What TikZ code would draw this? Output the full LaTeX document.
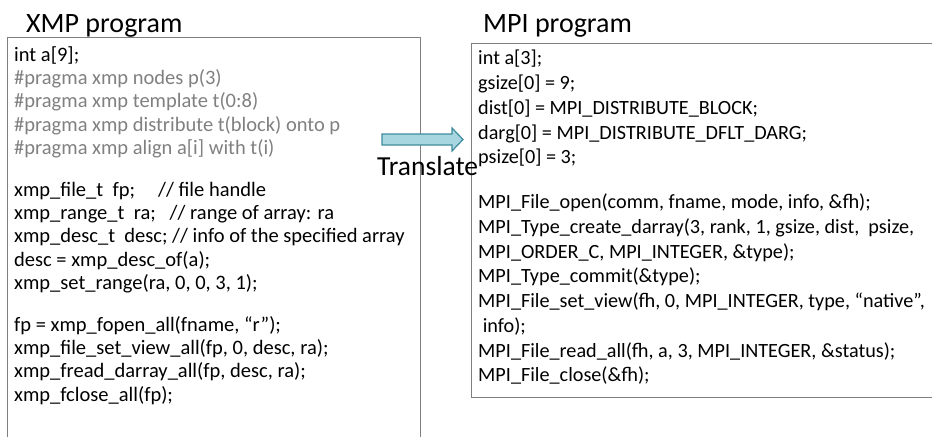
\documentclass[tikz,border=0pt]{standalone}
\usepackage{fontspec}
\setmainfont{Carlito}
\usepackage{tikz}
\usetikzlibrary{
    calc,
    positioning
}
\definecolor{framegray}{HTML}{7F7F7F}
\definecolor{pragmagray}{HTML}{808080}
\definecolor{arrowfill}{HTML}{A8D6E0}
\definecolor{arrowline}{HTML}{3E8C9C}
\tikzset{
    % Heading above a listing:
    title node/.style = {
        anchor = base west,
        inner sep = 0pt,
        font = \fontsize{28}{34}\selectfont
    },
    % Listing:
    code node/.style = {
        anchor = north west,
        align = left,
        inner sep = 0pt,
        font = \fontsize{20.5}{23.4}\selectfont
    },
    % Frame round a listing:
    code frame/.style = {
        draw = framegray,
        line width = 1pt
    },
    % Block arrow:
    block arrow/.style = {
        draw = arrowline,
        fill = arrowfill,
        line width = 1.2pt
    }
}
\newcommand{\pragmaline}[1]{\textcolor{pragmagray}{#1}}

\begin{document}
\begin{tikzpicture}[x=1pt, y=-1pt]
    \useasboundingbox (0, 0) rectangle (932, 437);
    \node [title node] (xmp title) at (26, 32) {XMP program};
    \node [title node] (mpi title) at (483, 32) {MPI program};
    \draw [code frame] (7, 437) -- (7, 37) -- (420, 37) -- (420, 437); % cut by the page
    \draw [code frame] (932, 43) -- (471, 43) -- (471, 397) -- (932, 397);
    \node [code node] (xmp code) at (14, 46) {%
        int a[9];\\
        \pragmaline{\#pragma xmp nodes p(3)}\\
        \pragmaline{\#pragma xmp template t(0:8)}\\
        \pragmaline{\#pragma xmp distribute t(block) onto p}\\
        \pragmaline{\#pragma xmp align a[i] with t(i)}\\[18pt]%
        xmp\_file\_t~~fp;~~~~~// file handle\\
        xmp\_range\_t~~ra;~~~// range of array: ra\\
        xmp\_desc\_t~~desc;~// info of the specified array\\
        desc = xmp\_desc\_of(a);\\
        xmp\_set\_range(ra, 0, 0, 3, 1);\\[18pt]%
        fp = xmp\_fopen\_all(fname, “r”);\\
        xmp\_file\_set\_view\_all(fp, 0, desc, ra);\\
        xmp\_fread\_darray\_all(fp, desc, ra);\\
        xmp\_fclose\_all(fp);%
    };
    \node [code node, font=\fontsize{20.2}{24.75}\selectfont] (mpi code) at (478, 50) {%
        int a[3];\\
        gsize[0] = 9;\\
        dist[0] = MPI\_DISTRIBUTE\_BLOCK;\\
        darg[0] = MPI\_DISTRIBUTE\_DFLT\_DARG;\\
        psize[0] = 3;\\[20pt]%
        MPI\_File\_open(comm, fname, mode, info, \&fh);\\
        MPI\_Type\_create\_darray(3, rank, 1, gsize, dist,~~psize,\\
        MPI\_ORDER\_C, MPI\_INTEGER, \&type);\\
        MPI\_Type\_commit(\&type);\\
        MPI\_File\_set\_view(fh, 0, MPI\_INTEGER, type, “native”,\\
        ~info);\\
        MPI\_File\_read\_all(fh, a, 3, MPI\_INTEGER, \&status);\\
        MPI\_File\_close(\&fh);%
    };
    \path [block arrow]
        (382, 134) -- (452, 134) -- (452, 128)
        -- (463, 139.5)
        -- (452, 151) -- (452, 145) -- (382, 145)
        -- cycle;
    \node [title node, font=\fontsize{27.5}{32}\selectfont] (translate label) at (377, 175) {Translate};
\end{tikzpicture}
\end{document}
